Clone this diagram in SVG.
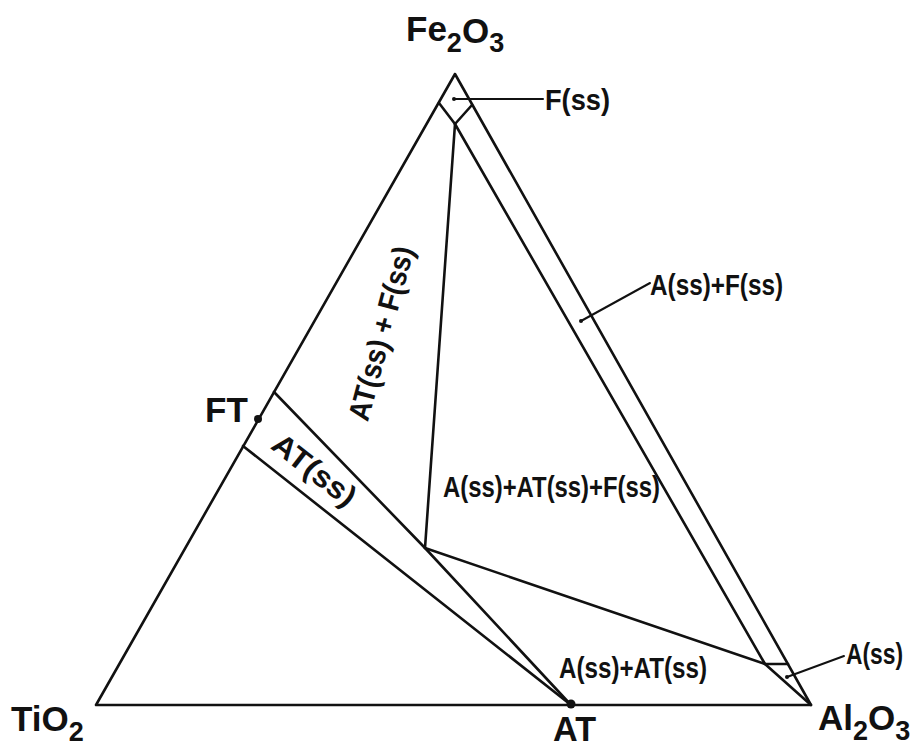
<svg xmlns="http://www.w3.org/2000/svg" width="917" height="747" viewBox="0 0 917 747">
<style>
.ln{fill:none;stroke:#111;stroke-width:2.6;stroke-linejoin:round;stroke-linecap:round}
.ld{fill:none;stroke:#111;stroke-width:2;stroke-linecap:round}
.cmp{font-family:"Liberation Sans",Arial,sans-serif;font-weight:bold;font-size:35px;fill:#111}
.sub{font-size:27px}
.reg{font-family:"Liberation Sans",Arial,sans-serif;font-weight:bold;font-size:30px;fill:#111}
.dot{fill:#111}
</style>
<rect width="917" height="747" fill="#fff"/>
<g id="connectors">
<polygon class="ln" points="455,74 96,705 811,705"/>
<polyline class="ln" points="439,103 455,124 472,105"/>
<polyline class="ln" points="455,124 765,664 811,705"/>
<line class="ln" x1="765" y1="664" x2="788" y2="664"/>
<line class="ln" x1="455" y1="124" x2="425" y2="548"/>
<line class="ln" x1="425" y1="548" x2="765" y2="664"/>
<polyline class="ln" points="274,392 425,548 571,705"/>
<line class="ln" x1="243" y1="446" x2="571" y2="705"/>
<line class="ld" x1="454" y1="99" x2="543" y2="99"/>
<line class="ld" x1="581" y1="321" x2="650" y2="283"/>
<line class="ld" x1="787" y1="677" x2="844" y2="656"/>
</g>
<g id="node-Fe2O3"><text class="cmp" x="406" y="41">Fe<tspan class="sub" dy="11">2</tspan><tspan dy="-9">O</tspan><tspan class="sub" dy="9">3</tspan></text></g>
<g id="node-TiO2"><text class="cmp" x="11" y="731">TiO<tspan class="sub" dy="10">2</tspan></text></g>
<g id="node-Al2O3"><text class="cmp" x="818" y="730">Al<tspan class="sub" dy="10">2</tspan><tspan dy="-10">O</tspan><tspan class="sub" dy="10">3</tspan></text></g>
<g id="node-AT"><circle class="dot" cx="571" cy="704" r="4.5"/><text class="cmp" x="553" y="741" textLength="43" lengthAdjust="spacingAndGlyphs">AT</text></g>
<g id="node-FT"><circle class="dot" cx="258" cy="419" r="4"/><text class="cmp" x="205" y="422">FT</text></g>
<g id="node-Fss"><circle class="dot" cx="454" cy="99" r="2"/><text class="reg" x="545" y="110" textLength="65" lengthAdjust="spacingAndGlyphs">F(ss)</text></g>
<g id="node-AssFss"><circle class="dot" cx="581" cy="321" r="2"/><text class="reg" x="650" y="295" textLength="133" lengthAdjust="spacingAndGlyphs">A(ss)+F(ss)</text></g>
<g id="node-Ass"><circle class="dot" cx="787" cy="677" r="2"/><text class="reg" x="846" y="664" font-size="28" textLength="57" lengthAdjust="spacingAndGlyphs">A(ss)</text></g>
<g id="node-AssATss"><text class="reg" x="559" y="678" textLength="148" lengthAdjust="spacingAndGlyphs">A(ss)+AT(ss)</text></g>
<g id="node-AssATssFss"><text class="reg" x="443" y="497" textLength="217" lengthAdjust="spacingAndGlyphs">A(ss)+AT(ss)+F(ss)</text></g>
<g id="node-ATssFss"><text class="reg" x="391" y="336" text-anchor="middle" transform="rotate(-75 391 336)" textLength="179" lengthAdjust="spacingAndGlyphs">AT(ss) + F(ss)</text></g>
<g id="node-ATss"><text class="reg" x="308" y="478" text-anchor="middle" transform="rotate(38 308 478)" textLength="98" lengthAdjust="spacingAndGlyphs">AT(ss)</text></g>
</svg>
